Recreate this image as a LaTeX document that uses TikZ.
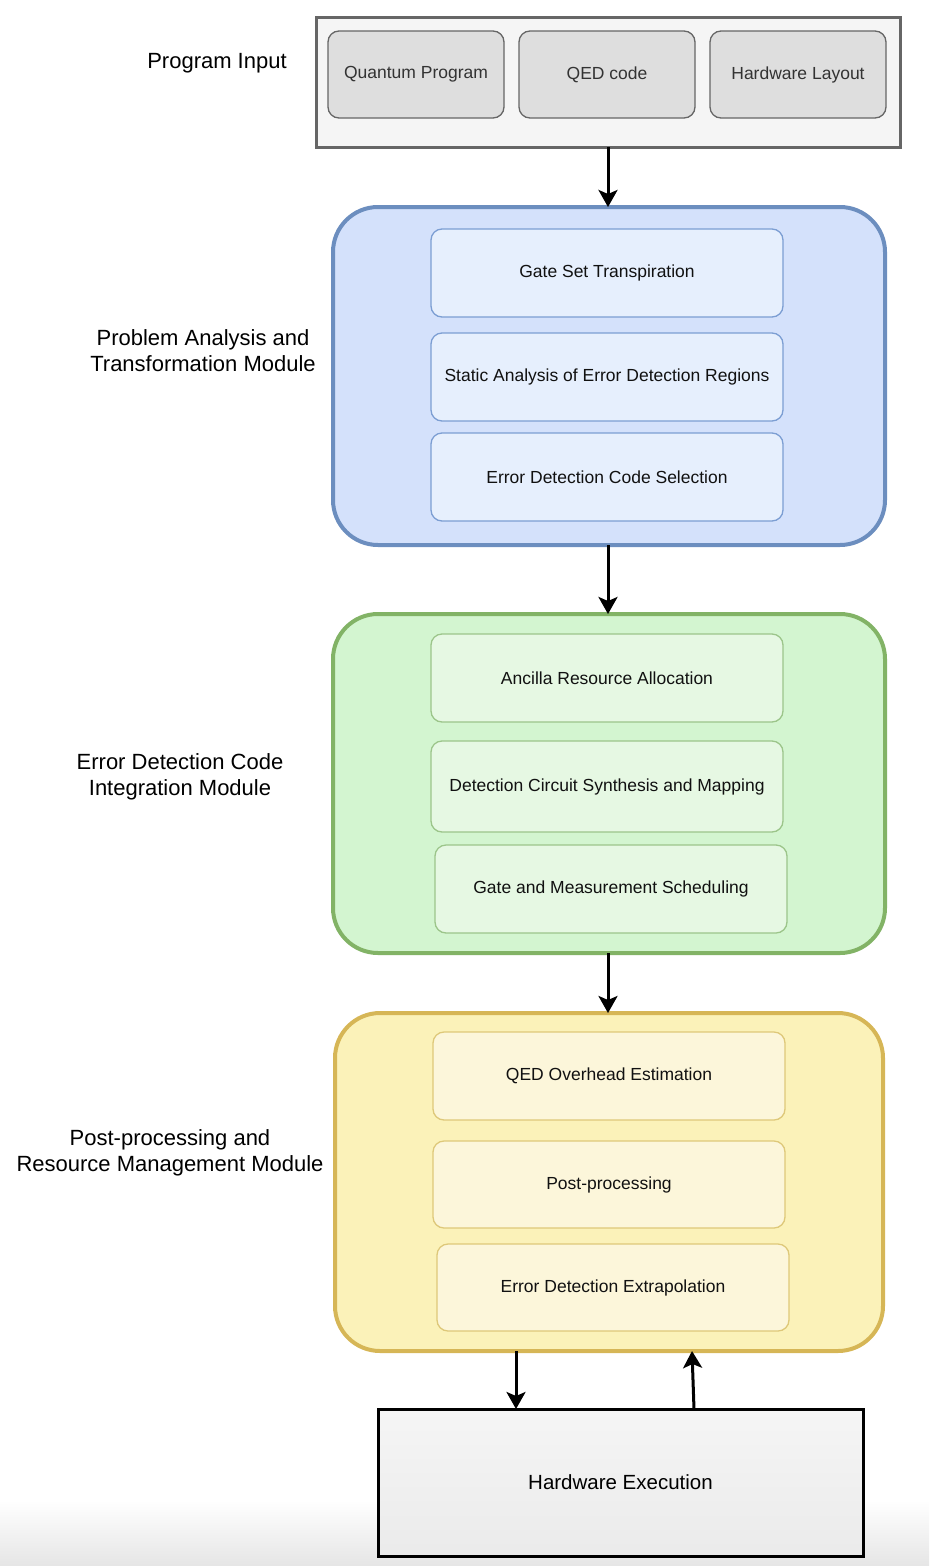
\documentclass[tikz,border=0pt]{standalone}
\usepackage{fontspec}
\setmainfont{Liberation Sans}
\usetikzlibrary{arrows.meta}
\definecolor{grayfill}{HTML}{F5F5F5}
\definecolor{graystroke}{HTML}{666666}
\definecolor{grayinner}{HTML}{DEDEDE}
\definecolor{bluefill}{HTML}{D4E1FB}
\definecolor{bluestroke}{HTML}{6C8EBF}
\definecolor{blueinner}{HTML}{E6EFFD}
\definecolor{blueinstroke}{HTML}{7C9ED3}
\definecolor{greenfill}{HTML}{D3F5D0}
\definecolor{greenstroke}{HTML}{82B366}
\definecolor{greeninner}{HTML}{E6F8E3}
\definecolor{greeninstroke}{HTML}{9CC58A}
\definecolor{yellowfill}{HTML}{FBF2B9}
\definecolor{yellowstroke}{HTML}{D6B656}
\definecolor{yellowinner}{HTML}{FCF6DA}
\definecolor{yellowinstroke}{HTML}{DEC879}
\definecolor{txt}{HTML}{111111}
\begin{document}
\begin{tikzpicture}[x=1pt,y=-1pt,
  every node/.style={inner sep=0pt, outer sep=0pt},
  modbox/.style={draw, line width=4pt, rounded corners=45pt},
  inbox/.style={draw, line width=1.3pt, rounded corners=11pt, text=txt,
    font=\fontsize{17.5}{20}\selectfont},
  topin/.style={inbox, fill=grayinner, draw=graystroke, text=black!80},
  blin/.style={inbox, fill=blueinner, draw=blueinstroke},
  grin/.style={inbox, fill=greeninner, draw=greeninstroke},
  yein/.style={inbox, fill=yellowinner, draw=yellowinstroke},
  sidelabel/.style={align=center, text=black, font=\fontsize{22}{26}\selectfont},
  arr/.style={draw=black, line width=3pt, -{Stealth[length=17pt,width=19pt,inset=4pt]}}
]
\useasboundingbox (0,0) rectangle (929,1566);
\shade[top color=white, bottom color=black!10] (0,1500) rectangle (929,1566);

% Program input
\node[draw=graystroke, fill=grayfill, line width=3pt, minimum width=584, minimum height=130] (pin) at (608,82) {};
\node[topin, minimum width=176, minimum height=87] (qp) at (416,74.5) {Quantum Program};
\node[topin, minimum width=176, minimum height=87] (qed) at (607,74.5) {QED code};
\node[topin, minimum width=176, minimum height=87] (hl) at (798,74.5) {Hardware Layout};
\node[sidelabel] (lpin) at (217,63) {Program Input};

% Problem analysis module
\node[modbox, draw=bluestroke, fill=bluefill, minimum width=552, minimum height=338] (pam) at (609,376) {};
\node[blin, minimum width=352, minimum height=88] (b1) at (607,273) {Gate Set Transpiration};
\node[blin, minimum width=352, minimum height=88] (b2) at (607,377) {Static Analysis of Error Detection Regions};
\node[blin, minimum width=352, minimum height=88] (b3) at (607,477) {Error Detection Code Selection};
\node[sidelabel] (lpam) at (203,351) {Problem Analysis and\\Transformation Module};

% Error detection code integration module
\node[modbox, draw=greenstroke, fill=greenfill, minimum width=552, minimum height=339] (edm) at (609,783.5) {};
\node[grin, minimum width=352, minimum height=88] (g1) at (607,678) {Ancilla Resource Allocation};
\node[grin, minimum width=352, minimum height=91] (g2) at (607,786.5) {Detection Circuit Synthesis and Mapping};
\node[grin, minimum width=352, minimum height=88] (g3) at (611,889) {Gate and Measurement Scheduling};
\node[sidelabel] (ledm) at (180,777) {Error Detection Code\\Integration Module};

% Post-processing module
\node[modbox, draw=yellowstroke, fill=yellowfill, minimum width=548, minimum height=338] (ppm) at (609,1182) {};
\node[yein, minimum width=352, minimum height=88] (y1) at (609,1076) {QED Overhead Estimation};
\node[yein, minimum width=352, minimum height=87] (y2) at (609,1184.5) {Post-processing};
\node[yein, minimum width=352, minimum height=87] (y3) at (613,1287.5) {Error Detection Extrapolation};
\node[sidelabel] (lppm) at (170,1153) {Post-processing and\\Resource Management Module};

% Hardware execution
\node[draw=black, line width=3pt, top color=grayfill, bottom color=black!8, minimum width=485, minimum height=147,
  font=\fontsize{20.5}{24}\selectfont] (hw) at (620.5,1482.5) {Hardware Execution};

% Connectors
\draw[arr] (pin.south) -- (pam.north -| pin.south);
\draw[arr] (pam.south -| pin.south) -- (edm.north -| pin.south);
\draw[arr] (edm.south -| pin.south) -- (ppm.north -| pin.south);
\coordinate (d1) at (516,0);
\coordinate (u1) at (694,0);
\coordinate (u2) at (692,0);
\draw[arr] (ppm.south -| d1) -- (hw.north -| d1);
\draw[arr] (hw.north -| u1) -- (ppm.south -| u2);
\end{tikzpicture}
\end{document}
